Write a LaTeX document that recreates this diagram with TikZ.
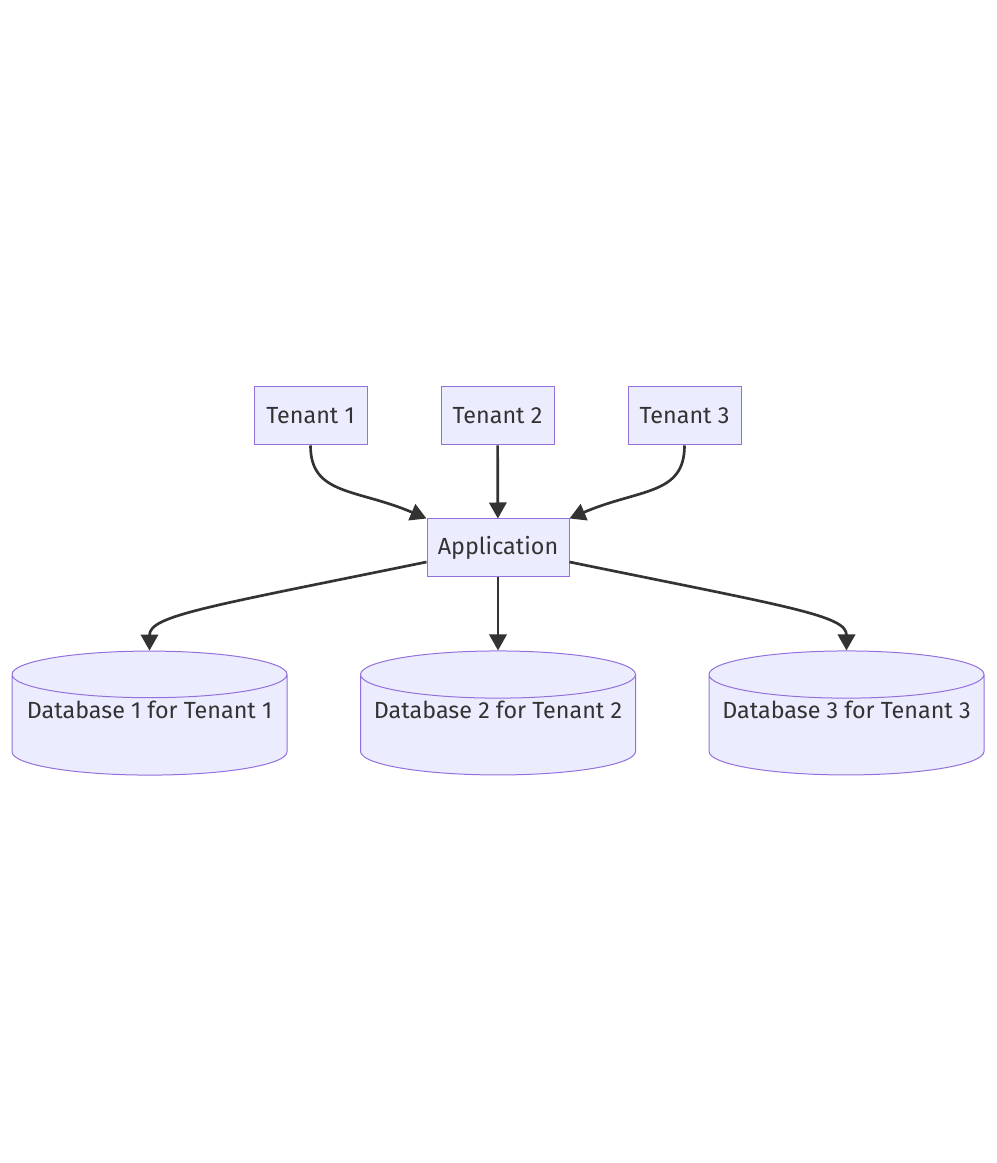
\documentclass[tikz,border=0pt]{standalone}
\usepackage{fontspec}
\setmainfont{Fira Sans}
\usetikzlibrary{arrows.meta,shapes.geometric}

\definecolor{boxfill}{HTML}{ECECFF}
\definecolor{boxline}{HTML}{9370DB}
\definecolor{linkgray}{HTML}{333333}

\begin{document}
\begin{tikzpicture}[x=0.75pt,y=0.75pt,
                font=\fontsize{17.5}{20}\selectfont,text=linkgray,
                main node/.style={rectangle,draw=boxline,fill=boxfill,line width=0.75pt,
                                  minimum height=43.5pt,inner sep=0pt},
                db node/.style={cylinder,shape border rotate=90,aspect=0.19,draw=boxline,
                                fill=boxfill,line width=0.75pt,minimum width=206.25pt,
                                minimum height=93pt,inner sep=0pt,text depth=23pt},
                link/.style={-{Triangle[length=12pt,width=13pt]},line width=2pt,draw=linkgray}]

	\useasboundingbox (0,0) rectangle (996,1163);

	\node[main node,minimum width=84.75pt] (t1) at (310.5,747) {Tenant 1};
	\node[main node,minimum width=84.75pt] (t2) at (497.5,747) {Tenant 2};
	\node[main node,minimum width=84.75pt] (t3) at (684.5,747) {Tenant 3};
	\node[main node,minimum width=106.5pt] (app) at (498,615) {Application};

	\node[db node] (db1) at (149.5,438) {Database 1 for Tenant 1};
	\node[db node] (db2) at (498,438) {Database 2 for Tenant 2};
	\node[db node] (db3) at (846.5,438) {Database 3 for Tenant 3};

	% tenants into the application
	\draw[link] (t1.south) .. controls +(0,-50) and +(-70,30) .. (app.north west);
	\draw[link] (t2) -- (app);
	\draw[link] (t3.south) .. controls +(0,-50) and +(70,30) .. (app.north east);

	% application to one database per tenant
	\draw[link] ([yshift=-10.5pt]app.west) .. controls +(-220,-45) and +(0,35) .. (db1.north);
	\draw[link] (app) -- (db2);
	\draw[link] ([yshift=-10.5pt]app.east) .. controls +(220,-45) and +(0,35) .. (db3.north);
\end{tikzpicture}
\end{document}
